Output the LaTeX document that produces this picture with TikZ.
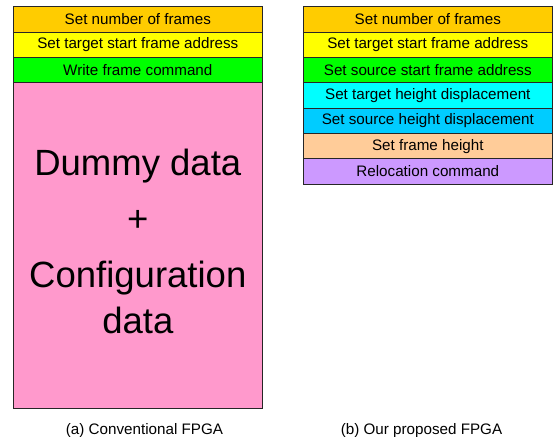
\documentclass[tikz,border=0pt]{standalone}
\usepackage{fontspec}
\setmainfont{Liberation Sans}
\usetikzlibrary{positioning}
\definecolor{cOrange}{RGB}{255,204,0}
\definecolor{cYellow}{RGB}{255,255,0}
\definecolor{cGreen}{RGB}{0,255,0}
\definecolor{cCyan}{RGB}{0,255,255}
\definecolor{cSky}{RGB}{0,204,255}
\definecolor{cPeach}{RGB}{255,204,153}
\definecolor{cPurple}{RGB}{204,153,255}
\definecolor{cPink}{RGB}{255,153,204}
\tikzset{
  field/.style={rectangle,draw=black!85,line width=0.9pt,inner sep=0pt,outer sep=0pt,
    minimum width=249pt,minimum height=25.35pt,font=\fontsize{15.2}{18}\selectfont},
  payload/.style={field,minimum height=325.6pt},
  bigtext/.style={align=center,inner sep=0pt,font=\fontsize{36.5}{46}\selectfont},
  caption/.style={font=\fontsize{15.2}{18}\selectfont,anchor=base,inner sep=0pt}
}

\begin{document}
\begin{tikzpicture}[x=1pt,y=-1pt,node distance=0pt]
\useasboundingbox (0,0) rectangle (558,437);
% (a) conventional
\node[field,fill=cOrange,anchor=north west] (a1) at (13.3,6.7) {Set number of frames};
\node[field,fill=cYellow,below=of a1] (a2) {Set target start frame address};
\node[field,fill=cGreen,below=of a2] (a3) {Write frame command};
\node[payload,fill=cPink,below=of a3] (a4) {};
\node[bigtext] (a4txt) at ([yshift=4pt]a4.center) {Dummy data\\[10pt]+\\[10pt]Configuration\\data};
% (b) proposed
\node[field,fill=cOrange,anchor=north west] (b1) at (303.3,6.7) {Set number of frames};
\node[field,fill=cYellow,below=of b1] (b2) {Set target start frame address};
\node[field,fill=cGreen,below=of b2] (b3) {Set source start frame address};
\node[field,fill=cCyan,below=of b3] (b4) {Set target height displacement};
\node[field,fill=cSky,below=of b4] (b5) {Set source height displacement};
\node[field,fill=cPeach,below=of b5] (b6) {Set frame height};
\node[field,fill=cPurple,below=of b6] (b7) {Relocation command};
% captions
\node[caption] (capa) at (144.5,434) {(a) Conventional FPGA};
\node[caption] (capb) at (421.5,434) {(b) Our proposed FPGA};
\end{tikzpicture}
\end{document}
